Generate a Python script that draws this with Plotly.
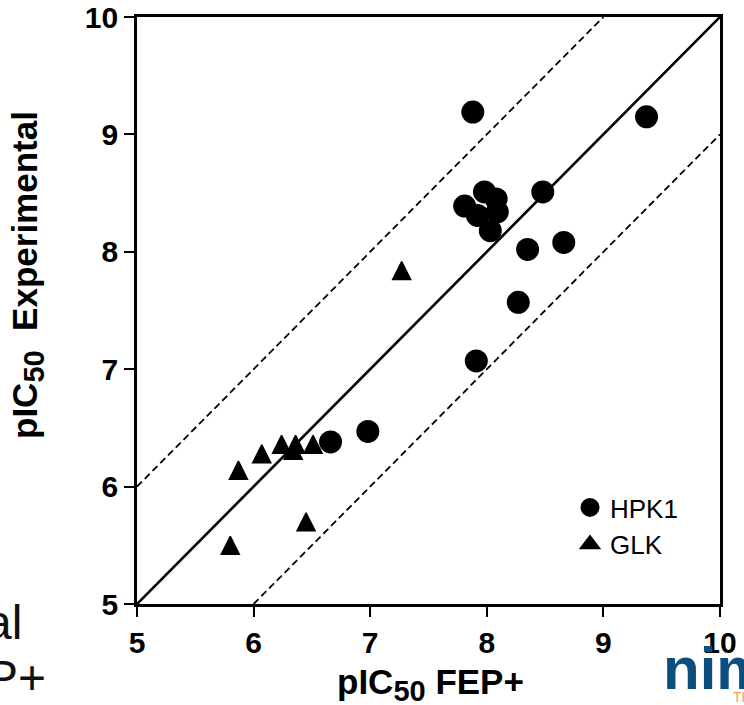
import plotly.graph_objects as go

# ---- data ----
hpk1_fep = [7.88, 9.37, 8.48, 7.98, 8.08, 7.81, 8.09, 7.92, 8.03, 8.35, 8.66, 8.27, 7.91, 6.98, 6.66]
hpk1_exp = [9.19, 9.15, 8.51, 8.51, 8.45, 8.39, 8.34, 8.31, 8.18, 8.02, 8.08, 7.57, 7.07, 6.47, 6.38]

glk_fep = [5.80, 5.87, 6.07, 6.24, 6.34, 6.36, 6.51, 6.45, 7.27]
glk_exp = [5.50, 6.14, 6.28, 6.36, 6.31, 6.36, 6.36, 5.70, 7.84]

diag_x = [5, 10]
diag_y = [5, 10]
upper_x = [5, 9]
upper_y = [6, 10]
lower_x = [6, 10]
lower_y = [5, 9]

tick_vals = [5, 6, 7, 8, 9, 10]
tick_text = ["5", "6", "7", "8", "9", "10"]

FONT = "Arial, Liberation Sans, sans-serif"
W, H = 744, 705
PL, PR, PT, PB = 137, 720, 17, 604
L, T, R, B = PL, PT, W - PR, H - PB
PW, PH = PR - PL, PB - PT


def px(x):
    return (x - PL) / PW


def py(y):
    return (PB - y) / PH


fig = go.Figure()
fig.add_trace(go.Scatter(x=diag_x, y=diag_y, mode="lines",
                         line=dict(color="black", width=2.6), showlegend=False, hoverinfo="skip"))
fig.add_trace(go.Scatter(x=upper_x, y=upper_y, mode="lines",
                         line=dict(color="black", width=1.8, dash="7px,4px"), showlegend=False, hoverinfo="skip"))
fig.add_trace(go.Scatter(x=lower_x, y=lower_y, mode="lines",
                         line=dict(color="black", width=1.8, dash="7px,4px"), showlegend=False, hoverinfo="skip"))

fig.add_trace(go.Scatter(x=hpk1_fep, y=hpk1_exp, mode="markers", name="HPK1", legendrank=1,
                         marker=dict(symbol="circle", size=20, color="black",
                                     line=dict(color="black", width=3))))
# GLK points: upright triangle centred on the point
fig.add_trace(go.Scatter(x=glk_fep, y=glk_exp, mode="markers", name="GLK", showlegend=False,
                         marker=dict(symbol="arrow-down", angle=180, standoff=9, size=18, color="black",
                                     line=dict(color="black", width=1.5))))
# legend entry for GLK
fig.add_trace(go.Scatter(x=[None], y=[None], mode="markers", name="GLK", legendrank=2,
                         marker=dict(symbol="triangle-up", size=16, color="black",
                                     line=dict(color="black", width=2))))

axis_common = dict(
    range=[5, 10], tickvals=tick_vals, ticktext=tick_text,
    showgrid=False, zeroline=False, automargin=False, ticklabeloverflow="allow",
    showline=True, linecolor="black", linewidth=2.6, mirror=True,
    ticks="outside", ticklen=10, tickwidth=2.4, tickcolor="black",
    tickfont=dict(family=FONT, size=30, color="black", weight="bold"),
)
fig.update_xaxes(**axis_common)
fig.update_yaxes(**axis_common)

title_font = dict(family=FONT, size=35, color="black", weight="bold")
sub50 = "<sub><span style='font-size:29px'>50</span></sub>"

fig.update_layout(
    template="none",
    width=W, height=H,
    margin=dict(l=L, r=R, t=T, b=B, pad=0, autoexpand=False),
    paper_bgcolor="white", plot_bgcolor="white",
    font=dict(family=FONT, color="black"),
    showlegend=True,
    legend=dict(x=px(570), y=py(484), xanchor="left", yanchor="top",
                bgcolor="rgba(0,0,0,0)", borderwidth=0,
                font=dict(family=FONT, size=26, color="black"),
                itemsizing="trace"),
    annotations=[
        dict(text="pIC" + sub50 + " FEP+", xref="paper", yref="paper",
             x=px(430), y=py(684), xanchor="center", yanchor="middle", showarrow=False,
             font=title_font),
        dict(text="pIC" + sub50 + "&nbsp; Experimental", xref="paper", yref="paper",
             x=px(27), y=py(275), xanchor="center", yanchor="middle", showarrow=False,
             textangle=-90, font=title_font),
        dict(text="al", xref="paper", yref="paper", x=px(24), y=py(622),
             xanchor="right", yanchor="middle", showarrow=False,
             font=dict(family=FONT, size=48, color="#111111")),
        dict(text="P+", xref="paper", yref="paper", x=px(48), y=py(677),
             xanchor="right", yanchor="middle", showarrow=False,
             font=dict(family=FONT, size=48, color="#111111")),
        dict(text="nim", xref="paper", yref="paper", x=px(661), y=py(668),
             xanchor="left", yanchor="middle", showarrow=False,
             font=dict(family=FONT, size=60, color="#0c4e7d", weight="bold")),
        dict(text="TH", xref="paper", yref="paper", x=px(731), y=py(697),
             xanchor="left", yanchor="middle", showarrow=False,
             font=dict(family=FONT, size=14, color="#f2a15a")),
    ],
)

fig.write_html("out.html",
               config={"displayModeBar": False},
               post_script="document.body.style.margin='0px';document.body.style.overflow='hidden';")
